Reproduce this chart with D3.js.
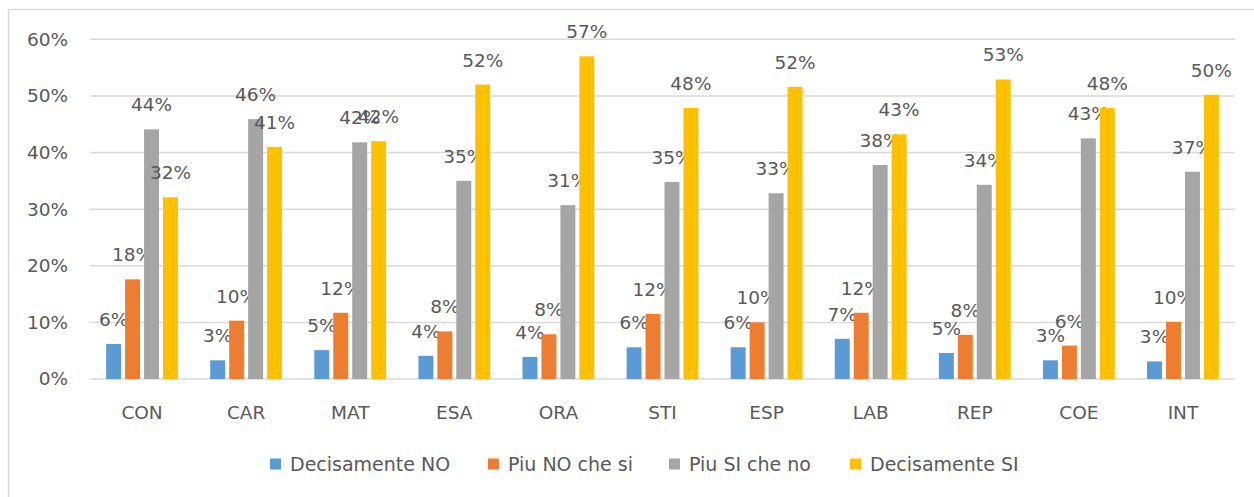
<!DOCTYPE html>
<html>
<head>
<meta charset="utf-8">
<script src="https://cdn.jsdelivr.net/npm/d3@7"></script>
<style>
  html, body { margin: 0; padding: 0; background: #fff; }
  svg { display: block; }
  text { font-family: "DejaVu Sans", sans-serif; fill: #595959; }
</style>
</head>
<body>
<svg id="chart" width="1254" height="497"></svg>
<script>
// Survey categories and the four answer series (share of responses)
const categories = ["CON", "CAR", "MAT", "ESA", "ORA", "STI", "ESP", "LAB", "REP", "COE", "INT"];
const seriesNames = ["Decisamente NO", "Piu NO che si", "Piu SI che no", "Decisamente SI"];
const decisamenteNo = [0.062, 0.033, 0.051, 0.041, 0.039, 0.056, 0.056, 0.071, 0.046, 0.033, 0.031];
const piuNoCheSi    = [0.176, 0.103, 0.117, 0.084, 0.079, 0.115, 0.100, 0.117, 0.078, 0.059, 0.101];
const piuSiCheNo    = [0.441, 0.459, 0.418, 0.350, 0.307, 0.348, 0.328, 0.378, 0.343, 0.425, 0.366];
const decisamenteSi = [0.321, 0.410, 0.420, 0.520, 0.570, 0.479, 0.516, 0.432, 0.529, 0.479, 0.502];
const yTicks = [0, 0.1, 0.2, 0.3, 0.4, 0.5, 0.6];
const colors = ["#5B9BD5", "#ED7D31", "#A5A5A5", "#FFC000"];

const seriesValues = [decisamenteNo, piuNoCheSi, piuSiCheNo, decisamenteSi];
const pct = d3.format(".0%");

const svg = d3.select("#chart");
const W = 1254, H = 497;
const plot = { left: 90, right: 1235, top: 39.3, bottom: 379 };

// chart area frame (only top and left edges fall inside the page)
svg.append("rect")
  .attr("x", 8.5).attr("y", 9.5)
  .attr("width", W + 10).attr("height", H + 10)
  .attr("fill", "none").attr("stroke", "#d9d9d9").attr("stroke-width", 1.5);

const x0 = d3.scaleBand().domain(categories)
  .range([plot.left, plot.right]).paddingInner(0.31).paddingOuter(0.155);
const x1 = d3.scaleBand().domain(d3.range(4))
  .range([0, x0.bandwidth()]).paddingInner(0.21);
const y = d3.scaleLinear().domain([0, 0.6]).range([plot.bottom, plot.top]);

// horizontal gridlines
svg.append("g").selectAll("line").data(yTicks).join("line")
  .attr("x1", plot.left).attr("x2", plot.right)
  .attr("y1", d => y(d)).attr("y2", d => y(d))
  .attr("stroke", "#d9d9d9").attr("stroke-width", 1.5);

// y axis labels
const yAxis = d3.axisLeft(y).tickValues(yTicks).tickFormat(pct).tickSize(0).tickPadding(0);
const gy = svg.append("g").attr("transform", "translate(68,0)").call(yAxis);
gy.select(".domain").remove();
gy.selectAll("text").attr("font-size", "18.5px").attr("fill", "#595959")
  .style("font-family", "DejaVu Sans, sans-serif");

// x axis labels
const xAxis = d3.axisBottom(x0).tickSize(0).tickPadding(0);
const gx = svg.append("g").attr("transform", `translate(0,${plot.bottom})`).call(xAxis);
gx.select(".domain").remove();
gx.selectAll("text").attr("font-size", "18.5px").attr("fill", "#595959")
  .attr("dy", null).attr("y", 40)
  .style("font-family", "DejaVu Sans, sans-serif");

// bars
const groups = svg.append("g").selectAll("g").data(categories).join("g")
  .attr("transform", d => `translate(${x0(d)},0)`);

const cells = groups.selectAll("g").data((c, ci) => seriesValues.map((vals, si) => ({ si, v: vals[ci] })))
  .join("g");

cells.append("rect")
  .attr("x", d => x1(d.si))
  .attr("width", x1.bandwidth())
  .attr("y", d => y(d.v))
  .attr("height", d => y(0) - y(d.v))
  .attr("fill", d => colors[d.si]);

// value labels above each bar
cells.append("text")
  .attr("x", d => x1(d.si) + x1.bandwidth() / 2)
  .attr("y", d => y(d.v) - 18)
  .attr("text-anchor", "middle")
  .attr("font-size", "18.5px")
  .text(d => pct(d.v));

// legend
const legendX = [270, 488, 669, 850];
const legend = svg.append("g").selectAll("g").data(seriesNames).join("g")
  .attr("transform", (d, i) => `translate(${legendX[i]},0)`);
legend.append("rect")
  .attr("x", 0).attr("y", 458.5).attr("width", 11).attr("height", 11)
  .attr("fill", (d, i) => colors[i]);
legend.append("text")
  .attr("x", 20).attr("y", 471)
  .attr("font-size", "19px")
  .text(d => d);
</script>
</body>
</html>
